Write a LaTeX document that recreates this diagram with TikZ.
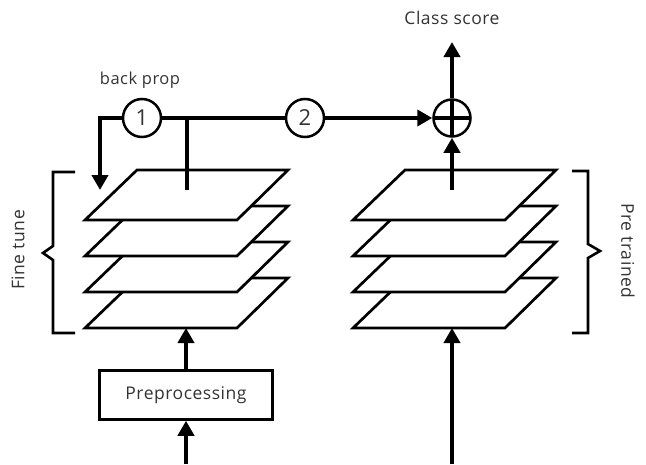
\documentclass[tikz,border=0pt]{standalone}
\usepackage{fontspec}
\setmainfont{Open Sans}[LetterSpace=3]
\usepackage{tikz}
\usetikzlibrary{arrows.meta}
\definecolor{txt}{HTML}{333333}

\begin{document}
\begin{tikzpicture}[x=1pt, y=-1pt,
    flow/.style={line width=4.6pt, -{Triangle[width=16pt,length=15pt]}},
    bar/.style={line width=4.6pt},
    plate/.style={draw, fill=white, line width=2.7pt, line join=miter},
    num/.style={circle, draw, line width=2.5pt, minimum size=38pt, inner sep=0pt, font=\fontsize{22}{22}\selectfont, text=txt},
    lbl/.style={font=\fontsize{17.5}{17.5}\selectfont, text=txt}]
    \useasboundingbox (0,0) rectangle (646,464);

    % layer stacks
    \foreach \x in {85, 353}
        \foreach \y in {278, 242, 206, 170}
            \draw [plate] (\x+52, \y) -- (\x+203, \y) -- (\x+152, \y+50) -- (\x, \y+50) -- cycle;

    % brackets
    \draw [line width=2.6pt] (75, 172) -- (53, 172) -- (53, 246) -- (43, 253) -- (53, 260) -- (53, 333) -- (75, 333);
    \draw [line width=2.6pt] (572, 171) -- (588, 171) -- (588, 244) -- (600, 251) -- (588, 258) -- (588, 333) -- (572, 333);
    \node (fine) at (18, 250) [lbl, rotate=90] {Fine tune};
    \node (pre) at (628, 251) [lbl, rotate=-90] {Pre trained};

    \node (one) at (142, 118) [num] {1};
    \node (two) at (305, 118) [num] {2};
    \node (plus) at (452, 118) [circle, draw, line width=2.5pt, minimum size=37pt, inner sep=0pt,
        path picture={\draw [line width=4.6pt] (path picture bounding box.north) -- (path picture bounding box.south)
            (path picture bounding box.west) -- (path picture bounding box.east);}] {};
    \node (back) at (140, 80) [lbl, font=\fontsize{16.5}{16.5}\selectfont] {back prop};
    \node (score) at (452, 18) [lbl] {Class score};
    \node (prep) at (186, 395) [draw, line width=2.5pt, minimum width=173pt, minimum height=49pt, lbl] {Preprocessing};

    \coordinate (drop) at (100, 190);
    \coordinate (tap) at (187, 118);
    \coordinate (tapend) at (187, 190);
    \coordinate (rtop) at (452, 190);
    \coordinate (out) at (452, 42);
    \coordinate (lin) at (186, 464);
    \coordinate (lbot) at (186, 328);
    \coordinate (rin) at (452, 464);
    \coordinate (rbot) at (452, 328);

    \draw [flow] (one.west) -| (drop);
    \draw [bar] (one) -- (two);
    \draw [bar] (tap) -- (tapend);
    \draw [flow] (two) -- (plus);
    \draw [flow] (rtop) -- (plus);
    \draw [flow] (plus) -- (out);
    \draw [flow] (lin) -- (prep);
    \draw [flow] (prep) -- (lbot);
    \draw [flow] (rin) -- (rbot);
\end{tikzpicture}
\end{document}
